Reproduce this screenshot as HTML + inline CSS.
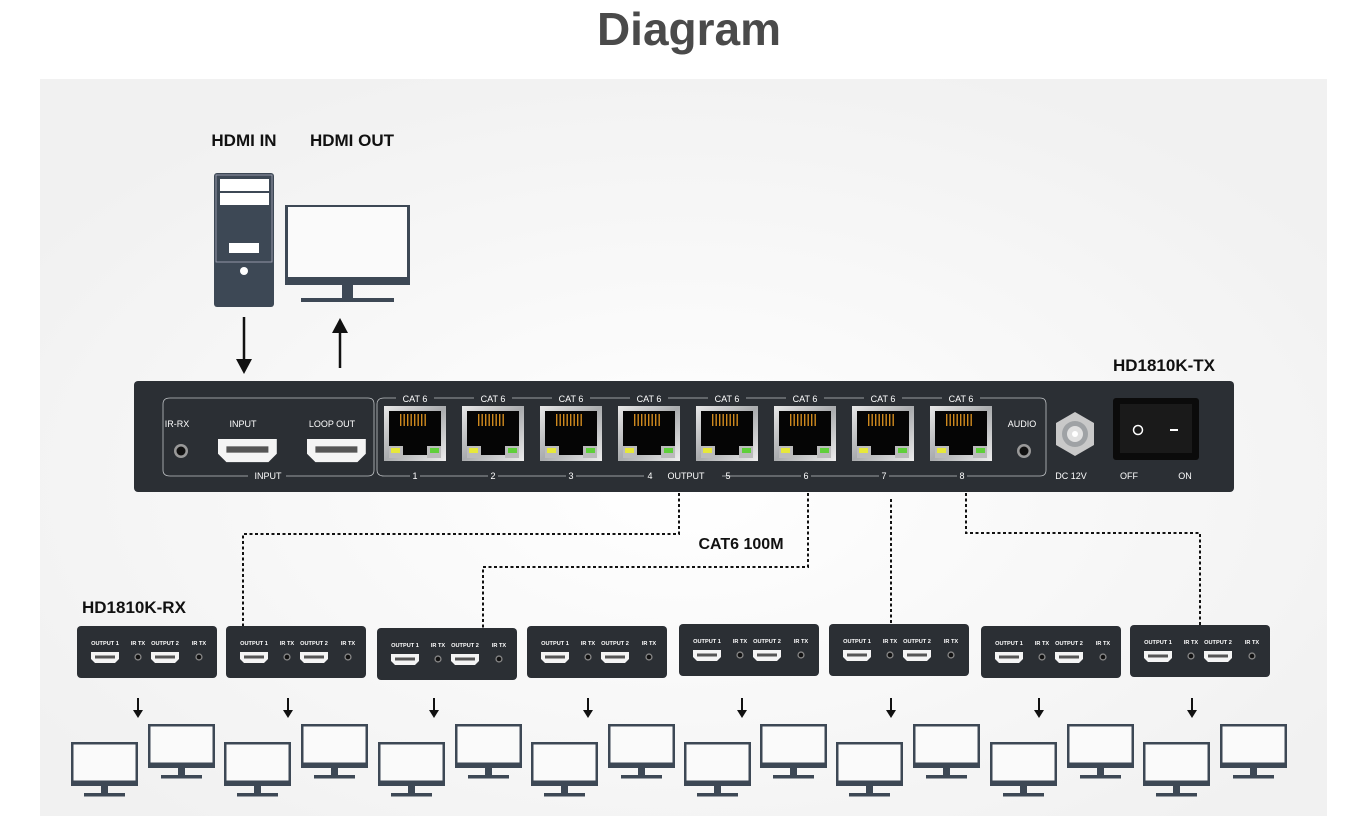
<!DOCTYPE html>
<html><head><meta charset="utf-8"><style>
html,body{margin:0;padding:0;background:#fff;}
svg{display:block;font-family:"Liberation Sans",sans-serif;}
</style></head><body>
<svg width="1366" height="823" viewBox="0 0 1366 823" xmlns="http://www.w3.org/2000/svg">
<defs>
<radialGradient id="bg" cx="0.5" cy="0.55" r="0.6">
<stop offset="0" stop-color="#ffffff"/><stop offset="1" stop-color="#f1f1f1"/>
</radialGradient>
<linearGradient id="pg" x1="0" y1="0" x2="1" y2="1">
<stop offset="0" stop-color="#e8e8e8"/><stop offset="0.5" stop-color="#a9abad"/><stop offset="1" stop-color="#eeeeee"/>
</linearGradient>
<g id="mon">
<rect x="0" y="0" width="67" height="44" fill="#3d4855"/>
<rect x="2.5" y="2.5" width="62" height="36" fill="#fafafa"/>
<rect x="30" y="44" width="7" height="8" fill="#3d4855"/>
<rect x="13" y="51" width="41" height="3.5" fill="#3d4855"/>
</g>
<g id="hdmi">
<path d="M0 0 H28 V7 L24 11 H4 L0 7 Z" fill="#f4f4f4"/>
<rect x="4" y="3.5" width="20" height="3" fill="#555"/>
</g>
<g id="jack"><circle r="3.6" fill="#888"/><circle r="2.3" fill="#111"/></g>
<g id="rx">
<rect x="0" y="0" width="140" height="52" rx="4" fill="#2b2f34"/>
<g fill="#fff" font-size="5.6" font-weight="bold" text-anchor="middle">
<text x="28" y="19">OUTPUT 1</text><text x="61" y="19">IR TX</text>
<text x="88" y="19">OUTPUT 2</text><text x="122" y="19">IR TX</text>
</g>
<use href="#hdmi" x="14" y="26"/><use href="#hdmi" x="74" y="26"/>
<use href="#jack" x="61" y="31"/><use href="#jack" x="122" y="31"/>
</g>
<g id="arr"><line x1="0" y1="0" x2="0" y2="14" stroke="#111" stroke-width="2"/><path d="M-5 12 H5 L0 20 Z" fill="#111"/></g>
<g id="port">
<rect x="0" y="0" width="62" height="55" fill="url(#pg)"/>
<rect x="5" y="5" width="52" height="44" fill="#050505"/>
<g fill="#d08a1e"><rect x="16" y="8" width="1.4" height="12"/><rect x="19.5" y="8" width="1.4" height="12"/><rect x="23" y="8" width="1.4" height="12"/><rect x="26.5" y="8" width="1.4" height="12"/><rect x="30" y="8" width="1.4" height="12"/><rect x="33.5" y="8" width="1.4" height="12"/><rect x="37" y="8" width="1.4" height="12"/><rect x="40.5" y="8" width="1.4" height="12"/></g>
<rect x="5" y="40" width="14" height="12" fill="#bbb"/><rect x="43" y="40" width="14" height="12" fill="#bbb"/>
<rect x="7" y="42" width="9" height="5" fill="#e7e83a"/><rect x="46" y="42" width="9" height="5" fill="#5fcf3a"/>
</g>
</defs>
<rect width="1366" height="823" fill="#fff"/>
<text x="689" y="45" font-size="46" font-weight="bold" fill="#4a4a4a" text-anchor="middle">Diagram</text>
<rect x="40" y="79" width="1287" height="737" fill="url(#bg)"/>

<text x="244" y="146" font-size="17" font-weight="bold" text-anchor="middle" fill="#111">HDMI IN</text>
<text x="352" y="146" font-size="17" font-weight="bold" text-anchor="middle" fill="#111">HDMI OUT</text>
<rect x="214" y="173" width="60" height="134" rx="3" fill="#3d4855"/>
<rect x="216" y="175" width="56" height="87" fill="none" stroke="#aab" stroke-width="0.8"/>
<rect x="220" y="179" width="49" height="12" fill="#fff"/>
<rect x="220" y="193" width="49" height="12" fill="#fff"/>
<rect x="229" y="243" width="30" height="10" fill="#fff"/>
<circle cx="244" cy="271" r="4" fill="#fff"/>
<rect x="285" y="205" width="125" height="80" fill="#3d4855"/>
<rect x="288" y="207" width="119" height="70" fill="#fafafa"/>
<rect x="342" y="285" width="11" height="14" fill="#3d4855"/>
<rect x="301" y="298" width="93" height="4" fill="#3d4855"/>
<line x1="244" y1="317" x2="244" y2="362" stroke="#111" stroke-width="2.5"/><path d="M236 359 H252 L244 374 Z" fill="#111"/>
<line x1="340" y1="330" x2="340" y2="368" stroke="#111" stroke-width="2.5"/><path d="M332 333 H348 L340 318 Z" fill="#111"/>

<text x="1164" y="371" font-size="17" font-weight="bold" text-anchor="middle" fill="#111">HD1810K-TX</text>
<rect x="134" y="381" width="1100" height="111" rx="4" fill="#2b2f34"/>
<g fill="none" stroke="#bfc2c5" stroke-width="0.8">
<path d="M170 398 H368 Q374 398 374 404 V470 Q374 476 368 476 H286 M248 476 H170 Q163 476 163 470 V404 Q163 398 170 398"/>
<path d="M384 398 H1040 Q1046 398 1046 404 V470 Q1046 476 1040 476 H384 Q377 476 377 470 V404 Q377 398 384 398"/>
</g>
<rect x="248" y="470" width="38" height="10" fill="#2b2f34"/>
<g fill="#fff" font-size="9" text-anchor="middle">
<text x="177" y="427">IR-RX</text><text x="243" y="427">INPUT</text><text x="332" y="427">LOOP OUT</text>
<text x="268" y="479">INPUT</text>
<text x="1022" y="427">AUDIO</text><text x="1071" y="479">DC 12V</text>
<text x="1129" y="479">OFF</text><text x="1185" y="479">ON</text>
</g>
<circle cx="181" cy="451" r="7" fill="#999"/><circle cx="181" cy="451" r="4.5" fill="#111"/>
<circle cx="1024" cy="451" r="7" fill="#999"/><circle cx="1024" cy="451" r="4.5" fill="#111"/>
<g transform="translate(218,439) scale(2.1)"><use href="#hdmi"/></g>
<g transform="translate(307,439) scale(2.1)"><use href="#hdmi"/></g>
<polygon points="1075,412 1094,423 1094,445 1075,456 1056,445 1056,423" fill="#c9c9c9"/>
<circle cx="1075" cy="434" r="13" fill="#9fa2a5"/><circle cx="1075" cy="434" r="8" fill="#e0e0e0"/><circle cx="1075" cy="434" r="3" fill="#fff"/>
<rect x="1113" y="398" width="86" height="62" rx="3" fill="#0b0b0b"/>
<rect x="1120" y="404" width="72" height="49" fill="#1a1a1a"/>
<circle cx="1138" cy="430" r="4.5" fill="none" stroke="#fff" stroke-width="1.5"/>
<rect x="1170" y="429" width="8" height="2" fill="#fff"/>
<g>
<use href="#port" x="384" y="406"/><use href="#port" x="462" y="406"/><use href="#port" x="540" y="406"/><use href="#port" x="618" y="406"/>
<use href="#port" x="696" y="406"/><use href="#port" x="774" y="406"/><use href="#port" x="852" y="406"/><use href="#port" x="930" y="406"/>
</g>
<g font-size="9" fill="#fff" text-anchor="middle">
<g><rect x="396" y="393" width="38" height="10" fill="#2b2f34"/><text x="415" y="402">CAT 6</text></g>
<g><rect x="474" y="393" width="38" height="10" fill="#2b2f34"/><text x="493" y="402">CAT 6</text></g>
<g><rect x="552" y="393" width="38" height="10" fill="#2b2f34"/><text x="571" y="402">CAT 6</text></g>
<g><rect x="630" y="393" width="38" height="10" fill="#2b2f34"/><text x="649" y="402">CAT 6</text></g>
<g><rect x="708" y="393" width="38" height="10" fill="#2b2f34"/><text x="727" y="402">CAT 6</text></g>
<g><rect x="786" y="393" width="38" height="10" fill="#2b2f34"/><text x="805" y="402">CAT 6</text></g>
<g><rect x="864" y="393" width="38" height="10" fill="#2b2f34"/><text x="883" y="402">CAT 6</text></g>
<g><rect x="942" y="393" width="38" height="10" fill="#2b2f34"/><text x="961" y="402">CAT 6</text></g>
<rect x="410" y="470" width="10" height="10" fill="#2b2f34"/><text x="415" y="479">1</text>
<rect x="488" y="470" width="10" height="10" fill="#2b2f34"/><text x="493" y="479">2</text>
<rect x="566" y="470" width="10" height="10" fill="#2b2f34"/><text x="571" y="479">3</text>
<rect x="644" y="470" width="78" height="10" fill="#2b2f34"/><text x="650" y="479">4</text><text x="686" y="479">OUTPUT</text><text x="728" y="479">5</text>
<rect x="801" y="470" width="10" height="10" fill="#2b2f34"/><text x="806" y="479">6</text>
<rect x="879" y="470" width="10" height="10" fill="#2b2f34"/><text x="884" y="479">7</text>
<rect x="957" y="470" width="10" height="10" fill="#2b2f34"/><text x="962" y="479">8</text>
</g>

<g fill="none" stroke="#111" stroke-width="2" stroke-dasharray="3,2.5">
<path d="M679 493 V534 H243 V626"/>
<path d="M808 493 V567 H483 V628"/>
<path d="M891 499 V624"/>
<path d="M966 493 V533 H1200 V625"/>
</g>
<text x="741" y="549" font-size="16" font-weight="bold" text-anchor="middle" fill="#111">CAT6 100M</text>
<text x="82" y="613" font-size="17" font-weight="bold" fill="#111">HD1810K-RX</text>

<use href="#rx" x="77" y="626"/><use href="#rx" x="226" y="626"/><use href="#rx" x="377" y="628"/><use href="#rx" x="527" y="626"/>
<use href="#rx" x="679" y="624"/><use href="#rx" x="829" y="624"/><use href="#rx" x="981" y="626"/><use href="#rx" x="1130" y="625"/>

<use href="#arr" x="138" y="698"/><use href="#arr" x="288" y="698"/><use href="#arr" x="434" y="698"/><use href="#arr" x="588" y="698"/>
<use href="#arr" x="742" y="698"/><use href="#arr" x="891" y="698"/><use href="#arr" x="1039" y="698"/><use href="#arr" x="1192" y="698"/>

<use href="#mon" x="148" y="724"/><use href="#mon" x="71" y="742"/>
<use href="#mon" x="301" y="724"/><use href="#mon" x="224" y="742"/>
<use href="#mon" x="455" y="724"/><use href="#mon" x="378" y="742"/>
<use href="#mon" x="608" y="724"/><use href="#mon" x="531" y="742"/>
<use href="#mon" x="760" y="724"/><use href="#mon" x="684" y="742"/>
<use href="#mon" x="913" y="724"/><use href="#mon" x="836" y="742"/>
<use href="#mon" x="1067" y="724"/><use href="#mon" x="990" y="742"/>
<use href="#mon" x="1220" y="724"/><use href="#mon" x="1143" y="742"/>
</svg>
</body></html>
